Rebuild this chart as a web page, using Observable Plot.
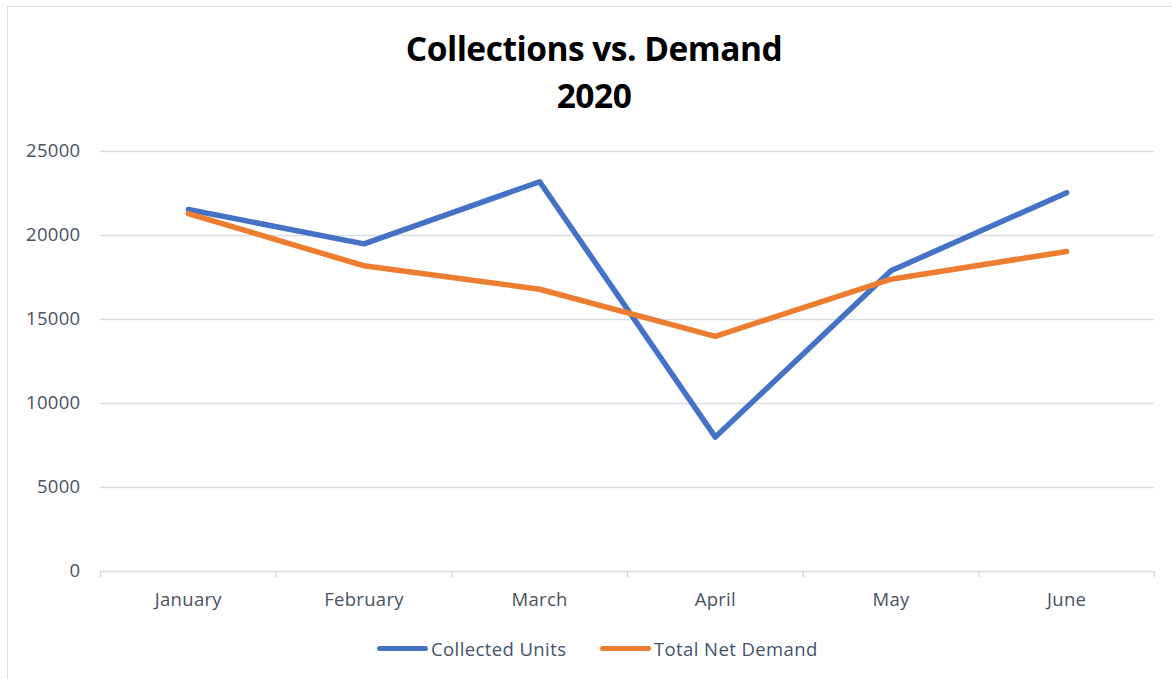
<!DOCTYPE html>
<html>
<head>
<meta charset="utf-8">
<script src="https://cdn.jsdelivr.net/npm/d3@7"></script>
<script src="https://cdn.jsdelivr.net/npm/@observablehq/plot@0.6"></script>
<style>
  html, body { margin: 0; padding: 0; background: #fff; }
  body { width: 1172px; height: 679px; overflow: hidden; position: relative; font-family: "Open Sans", "Noto Sans", sans-serif; }
  #frame { position: absolute; left: 7px; top: 6px; width: 1180px; height: 690px; border: 1px solid #dde0e4; box-sizing: border-box; }
  #title { position: absolute; left: 0; top: 25px; width: 1188px; text-align: center; font-weight: 700; font-size: 33.5px; line-height: 47px; color: #000; letter-spacing: -0.5px; }
  #chart { position: absolute; left: 0; top: 130px; }
  #legend { position: absolute; top: 636px; left: 0; width: 1172px; height: 24px; font-size: 18.5px; color: #44546a; letter-spacing: 0.4px; }
  .item { position: absolute; top: 0; display: flex; align-items: center; height: 24px; }
  .sw { display: inline-block; width: 51px; height: 5px; border-radius: 3px; margin-right: 3px; }
</style>
</head>
<body>
<div id="frame"></div>
<div id="title">Collections vs. Demand<br>2020</div>
<div id="chart"></div>
<div id="legend"></div>
<script>
const months = ["January", "February", "March", "April", "May", "June"];
const collectedUnits = [21550, 19500, 23200, 8000, 17900, 22550];
const totalNetDemand = [21300, 18200, 16800, 14000, 17400, 19050];
const yTicks = [0, 5000, 10000, 15000, 20000, 25000];
const seriesNames = ["Collected Units", "Total Net Demand"];
const seriesColors = ["#4472c4", "#ed7d31"];

const data = [];
months.forEach((m, i) => {
  data.push({month: m, idx: i + 0.5, value: collectedUnits[i], series: seriesNames[0]});
});
months.forEach((m, i) => {
  data.push({month: m, idx: i + 0.5, value: totalNetDemand[i], series: seriesNames[1]});
});
const centers = months.map((m, i) => i + 0.5);
const bounds = d3.range(months.length + 1);

const chart = Plot.plot({
  width: 1172,
  height: 486,
  marginLeft: 100,
  marginRight: 18,
  marginTop: 21,
  marginBottom: 45,
  style: {fontFamily: "'Open Sans', 'Noto Sans', sans-serif", fontSize: "18.5px", color: "#4a5260", background: "transparent", letterSpacing: "0.3px"},
  x: {type: "linear", domain: [0, months.length]},
  y: {domain: [0, 25000]},
  color: {domain: seriesNames, range: seriesColors},
  marks: [
    Plot.ruleY(yTicks, {stroke: "#d9dde2", strokeWidth: 1.3}),
    Plot.axisY({ticks: yTicks, tickSize: 0, tickPadding: 20, tickFormat: d => String(d), label: null, fill: "#4a5260"}),
    Plot.axisX({ticks: bounds, tickSize: 6, tickFormat: () => "", label: null, stroke: "#d0d4d9", strokeWidth: 1.3}),
    Plot.axisX({ticks: centers, tickSize: 0, tickPadding: 21, tickFormat: d => months[Math.floor(d)], label: null, fill: "#4a5260"}),
    Plot.line(data, {x: "idx", y: "value", stroke: "series", z: "series", strokeWidth: 5.5, strokeLinecap: "round", strokeLinejoin: "round"})
  ]
});
document.getElementById("chart").appendChild(chart);

const legend = document.getElementById("legend");
const lefts = [377, 600];
seriesNames.forEach((n, i) => {
  const item = document.createElement("div");
  item.className = "item";
  item.style.left = lefts[i] + "px";
  const sw = document.createElement("span");
  sw.className = "sw";
  sw.style.background = seriesColors[i];
  item.appendChild(sw);
  item.appendChild(document.createTextNode(n));
  legend.appendChild(item);
});
</script>
</body>
</html>
